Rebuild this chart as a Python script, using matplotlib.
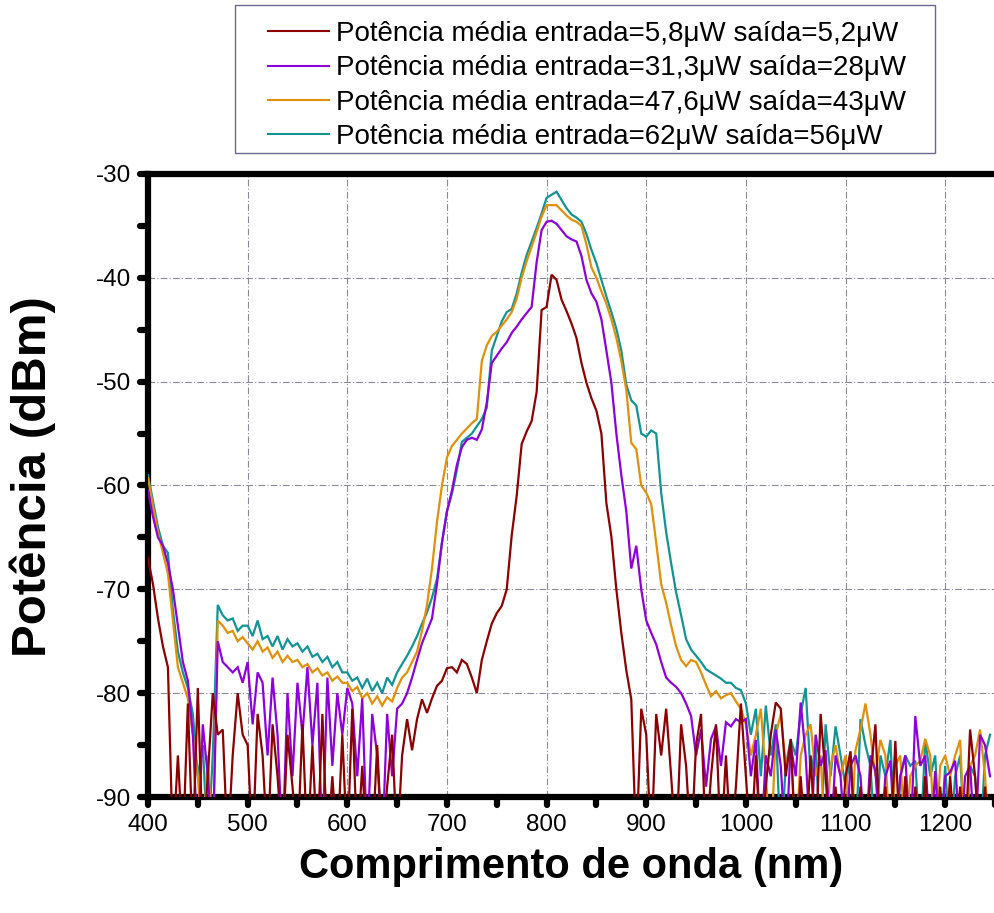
import numpy as np
import matplotlib
matplotlib.use("Agg")
import matplotlib.pyplot as plt
from matplotlib.markers import MarkerStyle
from matplotlib.patches import Rectangle

plt.rcParams['font.family'] = ['Liberation Sans', 'DejaVu Sans']
plt.rcParams['axes.unicode_minus'] = False

# Wavelength grid (nm), one sample every 5 nm
wavelength = np.arange(400, 1250, 5)

# Spectra in dBm; values below -90 dBm are the analyser noise floor
p_5_8 = [
    -67.0, -69.5, -72.8, -75.5, -77.5, -95.0, -86.0, -95.0, -81.0, -95.0,
    -79.5, -95.0, -88.0, -80.0, -84.0, -83.5, -95.0, -86.0, -80.0, -84.0,
    -85.0, -95.0, -82.0, -86.0, -95.0, -83.0, -88.0, -95.0, -84.0, -89.0,
    -95.0, -83.0, -95.0, -85.0, -95.0, -82.0, -95.0, -88.0, -95.0, -84.0,
    -95.0, -81.5, -95.0, -87.0, -95.0, -95.0, -85.0, -95.0, -89.0, -84.0,
    -95.0, -86.0, -82.5, -85.5, -82.5, -80.6, -81.9, -80.5, -79.3, -78.8,
    -77.6, -77.5, -78.0, -76.8, -77.2, -78.5, -80.0, -76.8, -75.0, -73.3,
    -72.3, -71.6, -70.0, -64.8, -61.0, -56.0, -54.8, -53.8, -51.0, -43.1,
    -42.8, -39.7, -40.2, -42.1, -43.2, -44.4, -45.8, -48.2, -50.1, -51.6,
    -52.8, -55.0, -61.7, -64.9, -70.0, -74.2, -77.8, -80.6, -95.0, -81.5,
    -84.0, -95.0, -82.0, -86.0, -81.5, -88.0, -95.0, -83.0, -87.0, -95.0,
    -85.0, -82.0, -95.0, -88.0, -83.0, -95.0, -86.0, -95.0, -89.0, -81.0,
    -88.0, -95.0, -86.0, -95.0, -89.0, -84.0, -80.9, -81.5, -88.0, -84.4,
    -95.0, -88.0, -95.0, -86.0, -95.0, -82.0, -88.0, -95.0, -89.0, -95.0,
    -88.0, -85.6, -95.0, -89.0, -95.0, -88.0, -83.0, -95.0, -89.0, -95.0,
    -84.6, -95.0, -88.0, -95.0, -89.0, -95.0, -88.0, -95.0, -95.0, -89.0,
    -95.0, -88.0, -95.0, -89.0, -95.0, -83.5, -88.0, -95.0, -89.0, -95.0,
]

p_31_3 = [
    -60.5, -63.0, -65.0, -65.8, -67.5, -70.0, -73.5, -77.0, -78.8, -84.0,
    -95.0, -83.0, -88.0, -95.0, -75.0, -77.0, -77.5, -78.0, -77.5, -79.0,
    -77.0, -83.0, -78.0, -79.0, -86.0, -78.5, -84.0, -95.0, -80.0, -88.0,
    -79.0, -84.0, -77.5, -85.0, -79.0, -95.0, -78.5, -87.0, -80.0, -84.0,
    -79.5, -81.0, -88.0, -80.5, -95.0, -82.0, -86.0, -95.0, -82.0, -88.0,
    -81.5, -81.0, -80.0, -78.5, -76.8, -75.2, -74.0, -72.8, -69.5, -65.5,
    -62.5, -60.5, -58.0, -56.3, -55.6, -55.4, -55.6, -54.6, -52.0, -48.2,
    -47.5, -46.8, -46.2, -45.3, -44.7, -44.0, -43.4, -42.8, -38.5, -35.4,
    -34.6, -34.5, -34.8, -35.4, -36.0, -36.3, -36.5, -37.9, -40.2, -41.5,
    -42.3, -44.0, -47.0, -50.1, -55.0, -59.0, -62.5, -68.0, -65.8, -70.0,
    -73.0, -74.2, -75.3, -77.0, -78.5, -79.0, -79.4, -80.0, -81.0, -82.2,
    -86.0, -83.5, -89.0, -84.4, -83.2, -87.0, -82.8, -83.2, -82.5, -82.8,
    -82.5, -88.0, -84.5, -95.0, -86.0, -88.0, -83.5, -87.0, -95.0, -85.0,
    -88.0, -80.9, -86.0, -95.0, -84.0, -87.0, -85.5, -95.0, -86.0, -88.0,
    -95.0, -87.0, -86.0, -88.0, -95.0, -86.0, -87.5, -95.0, -88.0, -86.5,
    -95.0, -88.0, -86.0, -95.0, -82.2, -87.0, -86.0, -95.0, -87.5, -95.0,
    -88.0, -87.6, -86.5, -95.0, -88.0, -87.0, -95.0, -84.0, -85.0, -88.0,
]

p_47_6 = [
    -59.3, -62.0, -64.5, -66.5, -68.5, -73.0, -77.5, -79.0, -80.5, -84.0,
    -88.0, -95.0, -86.0, -95.0, -73.0, -73.5, -74.2, -74.0, -75.0, -74.6,
    -75.2, -75.8, -75.0, -76.0, -75.6, -76.6, -76.0, -77.0, -76.4, -77.0,
    -76.8, -77.5, -77.2, -78.0, -77.6, -78.3, -78.0, -78.8, -78.4, -79.0,
    -79.0, -79.8, -79.4, -80.5, -80.0, -81.0, -80.3, -81.2, -80.4, -80.8,
    -79.5, -78.5, -78.0, -77.0, -76.0, -74.0, -71.5, -68.0, -63.5, -60.0,
    -57.3, -56.2, -55.6, -55.0, -54.5, -54.0, -53.6, -48.0, -46.5, -45.6,
    -45.2, -44.6, -44.0, -43.3, -42.0, -40.0, -38.4, -37.0, -35.6, -34.1,
    -33.0, -33.0, -33.0, -33.5, -34.0, -34.4, -34.6, -35.0, -36.8, -39.0,
    -40.0, -41.3, -42.5, -44.0, -45.8, -48.0, -50.8, -55.9, -56.5, -60.0,
    -60.7, -61.8, -65.5, -69.5, -71.3, -73.5, -75.5, -76.8, -77.4, -76.8,
    -77.0, -78.0, -79.2, -80.3, -79.8, -80.5, -80.2, -80.0, -80.8, -81.5,
    -83.0, -86.0, -84.0, -81.5, -88.0, -95.0, -84.0, -82.0, -87.0, -85.0,
    -95.0, -86.0, -84.0, -83.0, -88.0, -86.0, -95.0, -87.0, -85.0, -88.0,
    -86.0, -95.0, -85.5, -83.5, -81.0, -84.0, -88.0, -84.5, -86.0, -95.0,
    -87.0, -86.0, -95.0, -88.0, -87.0, -86.5, -84.4, -86.0, -95.0, -87.0,
    -86.0, -88.0, -86.0, -84.5, -95.0, -87.0, -86.0, -83.5, -88.0, -95.0,
]

p_62 = [
    -59.0, -61.5, -64.0, -65.8, -66.5, -72.0, -76.0, -78.0, -79.5, -82.0,
    -88.0, -85.0, -95.0, -86.0, -71.5, -72.5, -73.0, -72.8, -74.0, -73.5,
    -73.5, -74.5, -73.0, -74.8, -74.5, -75.5, -74.5, -75.8, -74.8, -75.5,
    -75.2, -76.0, -75.5, -76.5, -76.2, -77.0, -76.5, -77.5, -77.0, -78.0,
    -78.0, -78.8, -78.5, -79.5, -78.6, -79.8, -79.0, -80.0, -78.5, -79.2,
    -78.0, -77.2, -76.4, -75.5, -74.5, -73.3, -72.2, -70.8, -69.0, -65.5,
    -62.5, -60.8, -58.5, -55.8, -55.4, -55.0, -54.3, -53.6, -52.5, -47.0,
    -45.6, -44.2, -43.3, -43.0, -41.5, -39.5, -37.8, -36.5, -35.2, -33.8,
    -32.3, -32.0, -31.7, -32.5, -33.3, -33.9, -34.2, -34.6, -35.8, -37.3,
    -38.6, -40.2, -41.8, -43.3, -44.9, -47.0, -50.3, -51.8, -52.3, -55.0,
    -55.3, -54.7, -55.0, -60.7, -64.5, -67.5, -70.3, -72.5, -74.8, -75.8,
    -76.4, -77.0, -77.7, -78.0, -78.3, -78.6, -79.0, -79.0, -79.5, -79.7,
    -81.0, -84.0, -81.5, -88.0, -81.2, -86.0, -83.0, -95.0, -87.0, -84.5,
    -86.0, -82.0, -79.5, -88.0, -85.0, -95.0, -83.0, -88.0, -83.2, -86.0,
    -89.0, -86.0, -95.0, -82.5, -85.0, -87.0, -95.0, -86.0, -88.0, -84.5,
    -95.0, -88.0, -86.0, -87.0, -86.5, -95.0, -84.5, -88.0, -86.0, -95.0,
    -87.0, -95.0, -88.0, -86.0, -95.0, -87.0, -88.0, -95.0, -86.0, -84.0,
]

labels = [
    "Potência média entrada=5,8μW saída=5,2μW",
    "Potência média entrada=31,3μW saída=28μW",
    "Potência média entrada=47,6μW saída=43μW",
    "Potência média entrada=62μW saída=56μW",
]
colors = ["#8b0000", "#8f00d8", "#e0900a", "#139393"]
series = [p_5_8, p_31_3, p_47_6, p_62]

W, H = 995, 913
fig = plt.figure(figsize=(W / 100, H / 100), dpi=100)
ax = fig.add_axes([148 / W, (H - 797) / H, (W - 148) / W, (797 - 174) / H])

handles = [None] * 4
for i in [3, 2, 1, 0]:
    (ln,) = ax.plot(wavelength, series[i], color=colors[i], lw=1.6,
                    solid_joinstyle="miter", zorder=3 + (3 - i) * 0.1)
    handles[i] = ln

ax.set_xlim(400, 1247)
ax.set_ylim(-90, -30)
ax.set_xticks(np.arange(400, 1201, 100))
ax.set_xticks(np.arange(450, 1251, 100), minor=True)
ax.set_yticks(np.arange(-90, -29, 10))
ax.set_yticks(np.arange(-85, -30, 10), minor=True)

ax.grid(True, which="major", color="#8a8a9a", lw=0.8,
        linestyle=(0, (6, 2, 1, 2)), zorder=1)
ax.set_axisbelow(True)

for side in ["left", "bottom", "top"]:
    ax.spines[side].set_linewidth(4.5)
    ax.spines[side].set_color("black")
ax.spines["right"].set_visible(False)

ax.tick_params(which="both", direction="out", length=6, width=4.5,
               colors="black", labelsize=17.5, pad=6)
for axis in (ax.xaxis, ax.yaxis):
    for minor in (False, True):
        for t in axis.get_ticklines(minor=minor):
            t.set_marker(MarkerStyle(t.get_marker(), capstyle="round"))

ax.set_xlabel("Comprimento de onda (nm)", fontsize=30, fontweight="bold", labelpad=8)
ax.set_ylabel("Potência (dBm)", fontsize=35.5, fontweight="bold")
ax.yaxis.set_label_coords((56 - 148) / 847, (797 - 477) / 623)

# Legend box drawn as a separate frame so its padding can be set freely
fig.patches.append(Rectangle((235 / W, 1 - 153 / H), 700 / W, 148 / H,
                             transform=fig.transFigure, facecolor="white",
                             edgecolor="#6a6a90", lw=1.0, zorder=5))
leg = fig.legend(handles, labels, loc="upper left",
                 bbox_to_anchor=(268 / W, 1 - 21 / H),
                 fontsize=20, frameon=False,
                 handlelength=2.2, handletextpad=0.25, labelspacing=0.3,
                 borderpad=0, borderaxespad=0)
leg.set_zorder(6)
for lh in leg.get_lines():
    lh.set_linewidth(1.5)

fig.savefig("out.png", dpi=100)
